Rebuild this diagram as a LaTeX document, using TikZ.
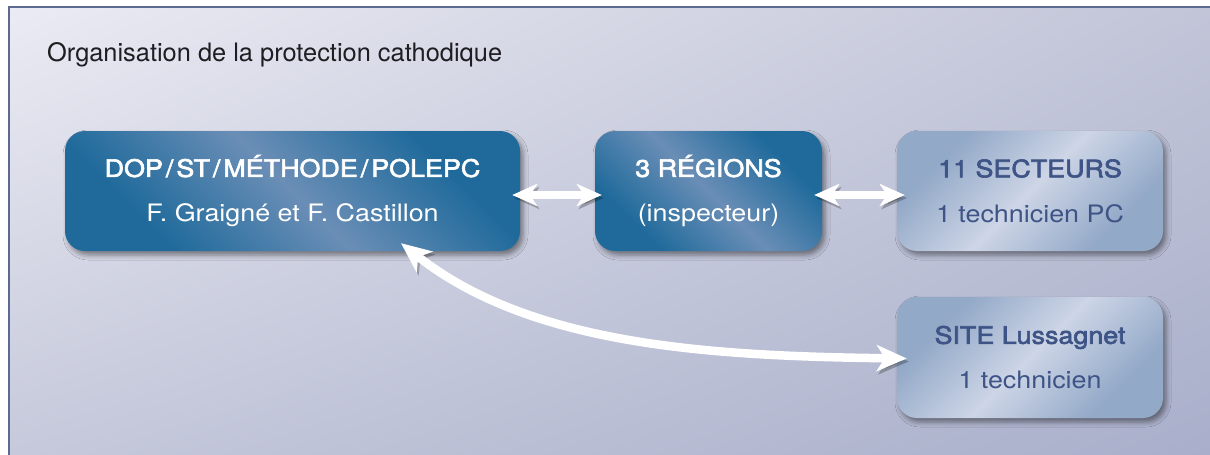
\documentclass[tikz,border=0pt]{standalone}
\usepackage{fontspec}
\setmainfont{TeX Gyre Heros}
\newfontfamily\boxfont{TeX Gyre Heros}[FakeStretch=1.12]
\newfontfamily\boxhead{TeX Gyre Heros}[FakeStretch=1.12, FakeBold=2.6]
\usetikzlibrary{arrows.meta,shadows.blur,shadings}

\definecolor{frameline}{HTML}{5B6A8E}
\definecolor{bgUL}{HTML}{EAEBF3}
\definecolor{bgUR}{HTML}{C2C5D8}
\definecolor{bgLL}{HTML}{C6C9DB}
\definecolor{bgLR}{HTML}{A9AFCB}
\definecolor{dkedge}{HTML}{1F6A9B}
\definecolor{dkmid}{HTML}{6A8EB6}
\definecolor{ltedge}{HTML}{93A9C8}
\definecolor{ltmid}{HTML}{CDD5E6}
\definecolor{lttext}{HTML}{3E5486}
\definecolor{titletext}{HTML}{1E1E22}

\pgfdeclarehorizontalshading{darkfill}{100bp}{color(0bp)=(dkedge); color(28bp)=(dkedge); color(50bp)=(dkmid); color(72bp)=(dkedge); color(100bp)=(dkedge)}
\pgfdeclarehorizontalshading{lightfill}{100bp}{color(0bp)=(ltedge); color(28bp)=(ltedge); color(50bp)=(ltmid); color(72bp)=(ltedge); color(100bp)=(ltedge)}

% spaced slash for the department path
\newcommand{\pathsep}{\hspace{3pt}/\hspace{3pt}}

\tikzset{
  boxbase/.style={rounded corners=20pt, inner sep=0pt, align=center, shade,
    font=\boxfont\fontsize{24}{45}\selectfont,
    blur shadow={shadow xshift=3pt, shadow yshift=-4pt, shadow blur radius=5pt, shadow opacity=45}},
  darkbox/.style={boxbase, shading=darkfill, shading angle=45, text=white},
  lightbox/.style={boxbase, shading=lightfill, shading angle=-45, text=lttext},
  link/.style={white, line width=8pt,
    {Stealth[length=25pt,width=22pt,inset=7pt]}-{Stealth[length=25pt,width=22pt,inset=7pt]},
    preaction={draw=black, opacity=0.25, transform canvas={shift={(2pt,-3pt)}}}},
  biglink/.style={link, line width=8.5pt,
    {Stealth[length=30pt,width=26pt,inset=8pt]}-{Stealth[length=30pt,width=26pt,inset=8pt]}}
}

\begin{document}
\begin{tikzpicture}[x=1pt,y=-1pt]
  \useasboundingbox (0,0) rectangle (1210,455);
  % page background and frame
  \fill[white] (0,0) rectangle (1210,455);
  \shade[upper left=bgUL, upper right=bgUR, lower left=bgLL, lower right=bgLR]
    (9,7) rectangle (1210,455);
  \draw[frameline, line width=1.5pt] (9,455) -- (9,7) -- (1210,7);

  % title
  \node[anchor=base west, text=titletext, font=\fontsize{25.4}{29}\selectfont,
        inner sep=0pt] (title) at (47,61) {Organisation de la protection cathodique};

  % boxes
  \node[darkbox, minimum width=455pt, minimum height=120pt] (b1) at (292.5,191)
    {{\boxhead DOP\pathsep ST\pathsep MÉTHODE\pathsep POLEPC}\\F. Graigné et F. Castillon};
  \node[darkbox, minimum width=227pt, minimum height=120pt] (b2) at (708.5,191)
    {{\boxhead 3 RÉGIONS}\\(inspecteur)};
  \node[lightbox, minimum width=266pt, minimum height=120pt] (b3) at (1030,191)
    {{\boxhead 11 SECTEURS}\\1 technicien PC};
  \node[lightbox, minimum width=266pt, minimum height=121pt] (b4) at (1030,357.5)
    {{\boxhead SITE Lussagnet}\\1 technicien};

  % connectors
  \draw[link] ([shift={(-8,4)}]b1.east) -- ([shift={(7,4)}]b2.west);
  \draw[link] ([shift={(-8,4)}]b2.east) -- ([shift={(8,4)}]b3.west);
  \draw[biglink] ([shift={(108.5,-8)}]b1.south)
    .. controls (530,345) and (707,356) .. ([shift={(10,1)}]b4.west);
\end{tikzpicture}
\end{document}
